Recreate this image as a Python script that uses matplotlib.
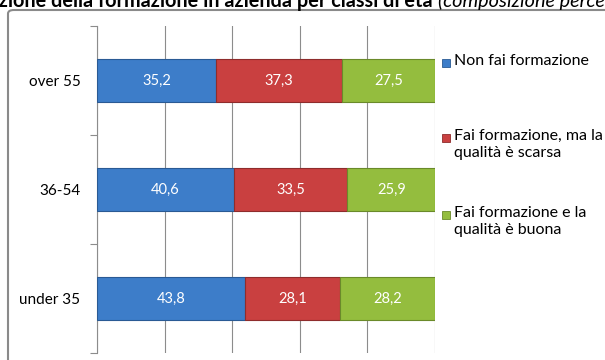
import matplotlib.pyplot as plt
import matplotlib.patches as mpatches
import numpy as np

plt.rcParams['font.family'] = ['Lato', 'DejaVu Sans']

categories = ["under 35", "36-54", "over 55"]
non_fai = [43.8, 40.6, 35.2]
fai_scarsa = [28.1, 33.5, 37.3]
fai_buona = [28.2, 25.9, 27.5]
series_names = ["Non fai formazione",
                "Fai formazione, ma la\nqualità è scarsa",
                "Fai formazione e la\nqualità è buona"]
series_colors = ["#3d7dc9", "#c94040", "#94bd3e"]
edge_colors = ["#2a5a94", "#8e2c2c", "#6a8a2a"]

W, H = 605, 360
fig = plt.figure(figsize=(W / 100, H / 100), dpi=100)

# outer chart frame (partly off canvas like the source)
frame = mpatches.FancyBboxPatch((8 / W, -0.1), 1.2, (H - 10) / H + 0.1,
                                boxstyle="round,pad=0,rounding_size=0.01",
                                transform=fig.transFigure, fill=False,
                                ec="#8a8a8a", lw=1.5)
fig.patches.append(frame)

# title, cut off at the top and sides as in the source image
fig.text(433 / W, 1 - 7 / H, "Valutazione della formazione in azienda per classi di età",
         ha="right", va="baseline", fontsize=14.3, fontweight="bold")
fig.text(438 / W, 1 - 7 / H, "(composizione percentuale)",
         ha="left", va="baseline", fontsize=14.3, style="italic")

ax = fig.add_axes([97 / W, 1 - 353 / H, (435 - 97) / W, (353 - 26) / H])
y = np.arange(len(categories))
left = np.zeros(len(categories))
for vals, name, col, ec in zip([non_fai, fai_scarsa, fai_buona], series_names,
                               series_colors, edge_colors):
    bars = ax.barh(y, vals, left=left, height=0.4, color=col, edgecolor=ec,
                   linewidth=0.8, label=name, zorder=3)
    for b, v in zip(bars, vals):
        ax.text(b.get_x() + b.get_width() / 2, b.get_y() + b.get_height() / 2,
                f"{v:.1f}".replace(".", ","), ha="center", va="center",
                color="white", fontsize=10.5, zorder=4)
    left += np.array(vals)

ax.set_xlim(0, 100)
ax.set_ylim(-0.5, 2.5)
ax.set_xticks(np.arange(0, 101, 20))
ax.xaxis.grid(True, color="#8c8c8c", lw=0.8, zorder=0)
ax.tick_params(axis="x", length=0, labelbottom=False)
ax.set_yticks(y)
ax.set_yticklabels(categories, fontsize=11)
ax.set_yticks([-0.5, 0.5, 1.5, 2.5], minor=True)
ax.tick_params(axis="y", which="major", length=0, pad=12)
ax.tick_params(axis="y", which="minor", length=5, color="#8c8c8c", width=0.8)
for s in ["top", "right", "bottom"]:
    ax.spines[s].set_visible(False)
ax.spines["left"].set_color("#8c8c8c")
ax.spines["left"].set_linewidth(0.8)

# legend drawn by hand so the square sits on the first text line
legend_y = [63, 138, 215]
for name, col, ec, ly in zip(series_names, series_colors, edge_colors, legend_y):
    fig.patches.append(mpatches.Rectangle((442 / W, 1 - (ly + 4) / H), 8 / W, 8 / H,
                                          transform=fig.transFigure,
                                          fc=col, ec=ec, lw=0.6))
    fig.text(454 / W, 1 - (ly - 9) / H, name, ha="left", va="top",
             fontsize=11.5, linespacing=1.25)

fig.savefig("out.png", dpi=100)
